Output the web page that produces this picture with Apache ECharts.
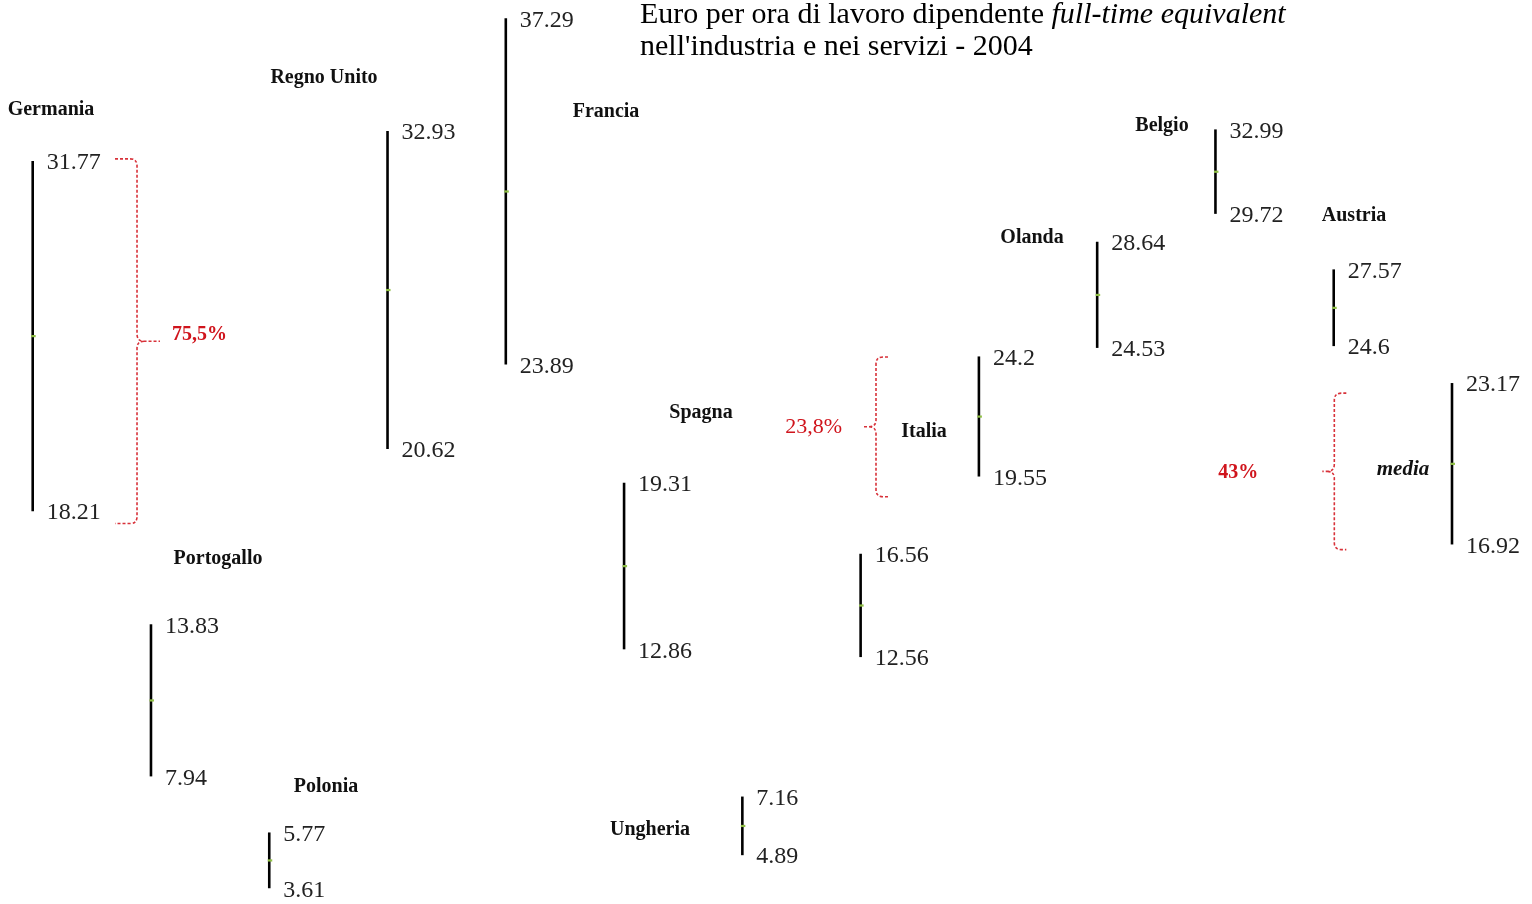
<!DOCTYPE html>
<html>
<head>
<meta charset="utf-8">
<script src="https://cdn.jsdelivr.net/npm/echarts@6/dist/echarts.min.js"></script>
<style>
html,body{margin:0;padding:0;background:#fff;}
#chart{width:1532px;height:904px;}
</style>
</head>
<body>
<div id="chart"></div>
<script>
// ---- data ----
const categories = ['Germania','Portogallo','Polonia','Regno Unito','Francia','Spagna','Ungheria','','Italia','Olanda','Belgio','Austria','media'];
const highValues = [31.77,13.83,5.77,32.93,37.29,19.31,7.16,16.56,24.2,28.64,32.99,27.57,23.17];
const lowValues  = [18.21,7.94,3.61,20.62,23.89,12.86,4.89,12.56,19.55,24.53,29.72,24.6,16.92];
const gapLabels  = ['75,5%','23,8%','43%'];
const titleLine1 = 'Euro per ora di lavoro dipendente ';
const titleItalic = 'full-time equivalent';
const titleLine2 = "nell'industria e nei servizi - 2004";

// ---- layout (annotation placement) ----
// braces: x position (category units), value span, direction (1 = "{", -1 = "}"), serif / point length, label anchor
const braceLayout = [
  {x:0.882, lo:17.73, hi:31.85, dir:-1, serif:22, point:23, labelDx:12,  labelDy:-6, align:'left',  bold:true,  size:20},
  {x:7.13,  lo:18.77, hi:24.18, dir:1,  serif:12, point:14, labelDx:-20, labelDy:0,  align:'right', bold:false, size:22},
  {x:11.005,lo:16.72, hi:22.78, dir:1,  serif:12, point:12, labelDx:-64, labelDy:1,  align:'right', bold:true,  size:20}
];
// country name label centres (px)
const namePos = [[51,110],[218,559],[326,787],[324,78],[606,112],[701,413],[650,830],null,[924,432],[1032,238],[1162,126],[1354,216],[1403,470]];

const SERIF = '"Liberation Serif","Times New Roman",serif';

const barData = categories.map((c,i)=>[i, lowValues[i], highValues[i]]);
const braceData = braceLayout.map((b,i)=>[b.x, b.lo, b.hi, i]);

const chart = echarts.init(document.getElementById('chart'));

const graphics = [];
graphics.push({
  type:'text', x:640, y:-1,
  style:{
    text:'{a|'+titleLine1+'}{b|'+titleItalic+'}\n{a|'+titleLine2+'}',
    rich:{
      a:{font:'30px '+SERIF, fill:'#000', lineHeight:32},
      b:{font:'italic 30px '+SERIF, fill:'#000', lineHeight:32}
    }
  }
});
categories.forEach((c,i)=>{
  if(!c || !namePos[i]) return;
  graphics.push({
    type:'text', x:namePos[i][0], y:namePos[i][1],
    style:{
      text:c,
      font:(c==='media'?'italic bold 21px ':'bold 20px ')+SERIF,
      fill:'#111', align:'center', verticalAlign:'middle'
    }
  });
});

chart.setOption({
  animation:false,
  grid:{left:32.7, right:80, top:-1.5, bottom:-1.7},
  xAxis:{type:'value', min:0, max:12, show:false},
  yAxis:{type:'value', min:3, max:38, show:false},
  graphic:graphics,
  series:[
    {
      type:'custom',
      data:barData,
      encode:{x:0, y:[1,2]},
      clip:false,
      renderItem:function(params, api){
        const i = api.value(0), lo = api.value(1), hi = api.value(2);
        const pT = api.coord([i, hi]);
        const pB = api.coord([i, lo]);
        const midY = (pT[1]+pB[1])/2;
        return {type:'group', children:[
          {type:'line', shape:{x1:pT[0], y1:pT[1], x2:pB[0], y2:pB[1]}, style:{stroke:'#000', lineWidth:2.6}},
          {type:'rect', shape:{x:pT[0]-1.5, y:midY-1, width:4.5, height:2.2}, style:{fill:'#8fbf45'}},
          {type:'text', x:pT[0]+14, y:pT[1]+2, style:{text:String(hi), font:'24px '+SERIF, fill:'#222', align:'left', verticalAlign:'middle'}},
          {type:'text', x:pB[0]+14, y:pB[1]+2, style:{text:String(lo), font:'24px '+SERIF, fill:'#222', align:'left', verticalAlign:'middle'}}
        ]};
      }
    },
    {
      type:'custom',
      data:braceData,
      encode:{x:0, y:[1,2]},
      clip:false,
      renderItem:function(params, api){
        const k = api.value(3);
        const b = braceLayout[k];
        const pT = api.coord([api.value(0), api.value(2)]);
        const pB = api.coord([api.value(0), api.value(1)]);
        const x0 = pT[0], top = pT[1], bot = pB[1], mid = (top+bot)/2;
        const d = b.dir, r = 7;
        const xs = x0 + d*b.serif, xp = x0 - d*b.point, xr = x0 - d*r;
        const path =
          'M'+xs+' '+top+' L'+(x0+d*r)+' '+top+' Q'+x0+' '+top+' '+x0+' '+(top+r)+
          ' L'+x0+' '+(mid-r)+' Q'+x0+' '+mid+' '+xr+' '+mid+' L'+xp+' '+mid+
          ' M'+xr+' '+mid+' Q'+x0+' '+mid+' '+x0+' '+(mid+r)+
          ' L'+x0+' '+(bot-r)+' Q'+x0+' '+bot+' '+(x0+d*r)+' '+bot+' L'+xs+' '+bot;
        return {type:'group', children:[
          {type:'path', shape:{pathData:path}, style:{stroke:'#d8323a', lineWidth:1.6, lineDash:[3,2], fill:null}},
          {type:'text', x:xp + b.labelDx, y:mid + b.labelDy, style:{text:gapLabels[k], font:(b.bold?'bold ':'')+b.size+'px '+SERIF, fill:'#d0141c', align:b.align, verticalAlign:'middle'}}
        ]};
      }
    }
  ]
});
</script>
</body>
</html>
